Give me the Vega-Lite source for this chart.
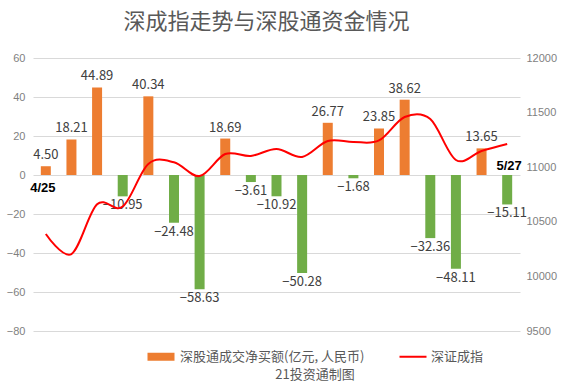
{
  "$schema": "https://vega.github.io/schema/vega-lite/v6.json",
  "width": 567,
  "height": 386,
  "autosize": {"type": "fit", "contains": "padding"},
  "padding": {"left": 6, "right": 10, "top": 11, "bottom": 50},
  "background": "white",
  "config": {"view": {"stroke": null}, "font": "Noto Sans CJK SC"},
  "title": {"text": "深成指走势与深股通资金情况", "fontSize": 22, "font": "Noto Sans CJK SC", "fontWeight": "normal", "color": "#595959", "anchor": "middle", "offset": 18, "dx": -10},
  "data": {"values": [
    {"day": 1, "date": "4/25", "net": 4.50, "szci": 10388},
    {"day": 2, "net": 18.21, "szci": 10205},
    {"day": 3, "net": 44.89, "szci": 10660},
    {"day": 4, "net": -10.95, "szci": 10640},
    {"day": 5, "net": 40.34, "szci": 11030},
    {"day": 6, "net": -24.48, "szci": 11045},
    {"day": 7, "net": -58.63, "szci": 10919},
    {"day": 8, "net": 18.69, "szci": 11121},
    {"day": 9, "net": -3.61, "szci": 11103},
    {"day": 10, "net": -10.92, "szci": 11167},
    {"day": 11, "net": -50.28, "szci": 11094},
    {"day": 12, "net": 26.77, "szci": 11240},
    {"day": 13, "net": -1.68, "szci": 11231},
    {"day": 14, "net": 23.85, "szci": 11245},
    {"day": 15, "net": 38.62, "szci": 11460},
    {"day": 16, "net": -32.36, "szci": 11441},
    {"day": 17, "net": -48.11, "szci": 11066},
    {"day": 18, "net": 13.65, "szci": 11148},
    {"day": 19, "date": "5/27", "net": -15.11, "szci": 11212}
  ]},
  "encoding": {
    "x": {"field": "day", "type": "ordinal", "axis": null, "scale": {"paddingInner": 0.6, "paddingOuter": 0.3}}
  },
  "layer": [
    {
      "encoding": {
        "y": {"field": "net", "type": "quantitative", "scale": {"domain": [-80, 60], "nice": false, "zero": false},
          "axis": {"orient": "left", "values": [-80, -60, -40, -20, 0, 20, 40, 60], "domain": false, "ticks": false, "grid": true, "gridColor": "#d9d9d9", "labelColor": "#7f7f7f", "labelFontSize": 11, "labelFont": "Liberation Sans", "title": null, "labelPadding": 8}}
      },
      "layer": [
        {
          "mark": {"type": "bar", "width": 10},
          "encoding": {
            "color": {
              "condition": {"test": "datum.net < 0", "value": "#70AD47"},
              "datum": "深股通成交净买额(亿元, 人民币)",
              "type": "nominal",
              "scale": {"domain": ["深股通成交净买额(亿元, 人民币)", "深证成指"], "range": ["#ED7D31", "#FF0000"]},
              "legend": {
                "orient": "none", "legendX": 114, "legendY": 292, "direction": "horizontal",
                "title": "21投资通制图", "titleOrient": "bottom", "titleAnchor": "middle",
                "titleFontSize": 13, "titleFontWeight": "normal", "titleColor": "#595959", "titleFont": "Noto Sans CJK SC",
                "labelFont": "Noto Sans CJK SC", "labelFontSize": 13, "labelColor": "#595959", "labelLimit": 400,
                "symbolSize": 100, "columnPadding": 30, "labelOffset": 20,
                "encode": {"symbols": {"update": {
                  "shape": {"signal": "datum.value === '深证成指' ? 'M-1,0H4.4' : 'M-1,-0.6H4V0.6H-1Z'"},
                  "fill": {"signal": "datum.value === '深证成指' ? 'transparent' : '#ED7D31'"},
                  "stroke": {"signal": "datum.value === '深证成指' ? '#FF0000' : 'transparent'"},
                  "strokeWidth": {"value": 2},
                  "opacity": {"value": 1}
                }}}
              }
            }
          }
        },
        {
          "transform": [{"filter": "datum.net >= 0"}],
          "mark": {"type": "text", "baseline": "bottom", "dy": -4, "fontSize": 13, "color": "#404040", "font": "Noto Sans CJK SC"},
          "encoding": {"text": {"field": "net", "type": "quantitative", "format": ".2f"}}
        },
        {
          "transform": [{"filter": "datum.net < 0"}],
          "mark": {"type": "text", "baseline": "top", "dy": 3, "fontSize": 13, "color": "#404040", "font": "Noto Sans CJK SC"},
          "encoding": {"text": {"field": "net", "type": "quantitative", "format": ".2f"}}
        },
        {
          "transform": [{"filter": "datum.day == 1"}],
          "mark": {"type": "text", "baseline": "top", "dy": 7, "dx": -3, "fontSize": 13, "fontWeight": "bold", "color": "#000000", "font": "Liberation Sans"},
          "encoding": {"y": {"datum": 0}, "text": {"field": "date", "type": "nominal"}}
        },
        {
          "transform": [{"filter": "datum.day == 19"}],
          "mark": {"type": "text", "baseline": "bottom", "dy": -2, "dx": 2, "fontSize": 13, "fontWeight": "bold", "color": "#000000", "font": "Liberation Sans"},
          "encoding": {"y": {"datum": 0}, "text": {"field": "date", "type": "nominal"}}
        }
      ]
    },
    {
      "mark": {"type": "line", "interpolate": "cardinal", "strokeWidth": 2},
      "encoding": {
        "y": {"field": "szci", "type": "quantitative", "scale": {"domain": [9500, 12000], "nice": false, "zero": false},
          "axis": {"orient": "right", "values": [9500, 10000, 10500, 11000, 11500, 12000], "format": "d", "domain": false, "ticks": false, "grid": false, "labelColor": "#7f7f7f", "labelFontSize": 11, "labelFont": "Liberation Sans", "title": null, "labelPadding": 6}},
        "color": {"datum": "深证成指", "type": "nominal"}
      }
    }
  ],
  "resolve": {"scale": {"y": "independent"}}
}
